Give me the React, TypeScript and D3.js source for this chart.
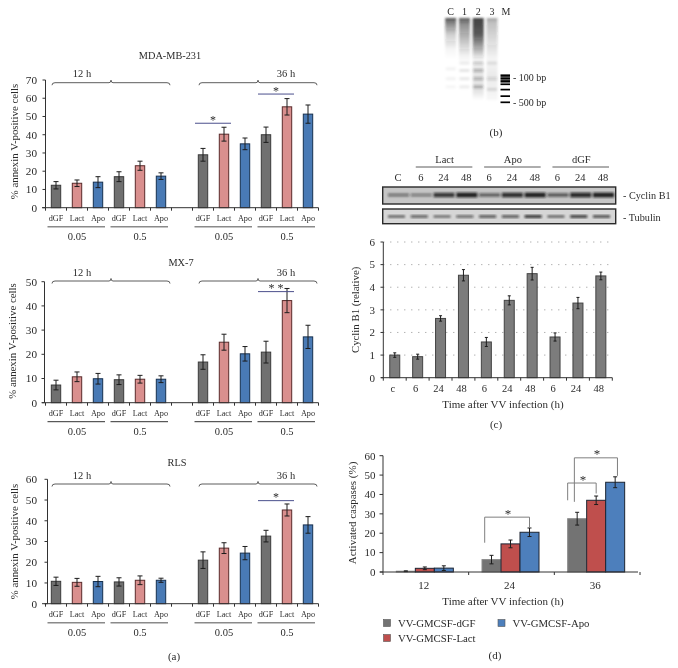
import React from "react";
import * as d3 from "d3";

const FONT = "'Liberation Serif', serif";
const INK = "#2b2b2b";

// (a) annexin V panels
const conditions = ["dGF", "Lact", "Apo", "dGF", "Lact", "Apo", "", "dGF", "Lact", "Apo", "dGF", "Lact", "Apo"];
const mdaValues = [12.3, 13.4, 14, 17, 23, 17.3, null, 29, 40.3, 35, 40, 55.3, 51.3];
const mdaErrors = [2, 1.8, 3, 2.7, 2.5, 1.8, 0, 3.5, 3.8, 3.2, 4.2, 4.5, 5];
const mxValues = [7.3, 10.7, 9.9, 9.5, 9.7, 9.7, null, 16.8, 25, 20.2, 20.9, 42.2, 27.2];
const mxErrors = [2, 2, 2.2, 2, 1.6, 1.4, 0, 3, 3.3, 3, 4.5, 5, 4.8];
const rlsValues = [10.8, 10.3, 10.7, 10.5, 11.3, 11.3, null, 21, 26.8, 24.4, 32.6, 45.2, 38];
const rlsErrors = [2, 1.9, 2.5, 2, 2.1, 1, 0, 4, 2.6, 3.2, 2.8, 2.9, 4];
const doseLabels = ["0.05", "0.5", "0.05", "0.5"];
const timeLabels = ["12 h", "36 h"];

// (b) gel
const gelLaneNames = ["C", "1", "2", "3"];
const gelLaneSmears = [
  [[0, 0.8], [0.06, 0.55], [0.2, 0.22], [0.38, 0.04], [0.5, 0]],
  [[0, 0.75], [0.08, 0.5], [0.25, 0.3], [0.45, 0.06], [0.55, 0]],
  [[0, 0.85], [0.2, 0.75], [0.4, 0.3], [0.52, 0.02], [0.62, 0.1], [0.9, 0.1], [1, 0]],
  [[0, 0.4], [0.06, 0.28], [0.3, 0.15], [0.5, 0.04], [0.7, 0.08], [1, 0.03]],
];
const gelLaneBands = [
  [[0.62, 0.05], [0.74, 0.05], [0.84, 0.04]],
  [[0.55, 0.08], [0.64, 0.1], [0.74, 0.09], [0.84, 0.08]],
  [[0.55, 0.22], [0.64, 0.28], [0.74, 0.28], [0.84, 0.32]],
  [[0.55, 0.1], [0.74, 0.16], [0.87, 0.12]],
];
const markerBands = [0.7, 0.735, 0.77, 0.81, 0.875, 0.955, 1.03];
const gelSizes = [["- 100 bp", 0.72], ["- 500 bp", 1.03]];

// (c) blot and bars
const blotTop = ["C", "6", "24", "48", "6", "24", "48", "6", "24", "48"];
const blotGroups = ["Lact", "Apo", "dGF"];
const cyclinBands = [0.4, 0.35, 0.85, 1, 0.55, 0.9, 1, 0.6, 0.95, 1];
const tubulinBands = [0.5, 0.6, 0.45, 0.55, 0.65, 0.65, 0.85, 0.5, 0.8, 0.7];
const cyclinLabels = ["c", "6", "24", "48", "6", "24", "48", "6", "24", "48"];
const cyclinValues = [1, 0.93, 2.62, 4.53, 1.58, 3.42, 4.6, 1.8, 3.3, 4.5];
const cyclinErrors = [0.1, 0.11, 0.12, 0.25, 0.2, 0.2, 0.28, 0.18, 0.25, 0.17];

// (d) caspases
const hours = ["12", "24", "36"];
const caspaseSeries = ["VV-GMCSF-dGF", "VV-GMCSF-Lact", "VV-GMCSF-Apo"];
const caspaseDgf = [0.4, 6.4, 27.5];
const caspaseLact = [1.9, 14.5, 37];
const caspaseApo = [2, 20.5, 46.3];
const caspaseDgfErr = [0.2, 2.2, 3.3];
const caspaseLactErr = [0.7, 2, 2.2];
const caspaseApoErr = [1.2, 2.2, 2.8];

const T = (p: any) => <text fontFamily={FONT} fill={INK} {...p} />;

function Annexin({ title, titleX, titleY, values, errors, yMax, y0, yTop, axisX, titleAxisX, titleAxisY, brace, sig }: any) {
  const x = d3.scaleBand<number>().domain(d3.range(13)).range([45.5, 318.5]);
  const y = d3.scaleLinear().domain([0, yMax]).range([y0, yTop]);
  const colors = ["#6f6f6f", "#d98f8e", "#4a7ab5"];
  const strokes = ["#3a3a3a", "#5a2b2b", "#17304f"];
  const cx = (i: number) => x(i)! + x.bandwidth() / 2;
  const braces = [[0, 5], [7, 12]];
  const groups = [[0, 2], [3, 5], [7, 9], [10, 12]];
  const gray = title !== "MX-7";
  return (
    <g>
      <T x={titleX} y={titleY} textAnchor="middle" fontSize={10.3} dy="0.35em">{title}</T>
      {values.map((v: number | null, i: number) =>
        v == null ? null : (
          <g key={i}>
            <rect x={cx(i) - 4.7} y={y(v)} width={9.4} height={y0 - y(v)} fill={colors[(i > 6 ? i - 1 : i) % 3]} stroke={strokes[(i > 6 ? i - 1 : i) % 3]} strokeWidth={1} />
            <path d={`M${cx(i) - 2.5},${y(v + errors[i])}h5M${cx(i)},${y(v + errors[i])}V${y(v - errors[i])}M${cx(i) - 2.5},${y(v - errors[i])}h5`} stroke="#1d1d1d" strokeWidth={1} fill="none" />
          </g>
        ))}
      <line x1={42} x2={318.5} y1={y0} y2={y0} stroke="#333" strokeWidth={1} />
      <line x1={axisX} x2={axisX} y1={yTop} y2={y0} stroke="#333" strokeWidth={1} />
      {y.ticks(yMax / 10).map((t) => (
        <g key={t}>
          <line x1={axisX - 3} x2={axisX} y1={y(t)} y2={y(t)} stroke="#333" />
          <T x={37} y={y(t)} dy="0.35em" textAnchor="end" fontSize={11.2}>{t}</T>
        </g>
      ))}
      {d3.range(14).map((i) => (
        <line key={i} x1={45.5 + i * x.bandwidth()} x2={45.5 + i * x.bandwidth()} y1={y0} y2={y0 + 3} stroke="#333" />
      ))}
      {conditions.map((c, i) => (
        <T key={i} x={cx(i)} y={y0 + 10.7} dy="0.35em" textAnchor="middle" fontSize={8.2}>{c}</T>
      ))}
      {groups.map(([a, b], i) => (
        <g key={i}>
          <line x1={cx(a) - 8.5} x2={cx(b) + 7} y1={y0 + 19} y2={y0 + 19} stroke={gray ? "#8a8a8a" : "#333"} strokeWidth={gray ? 1.6 : 1} />
          <T x={(cx(a) + cx(b)) / 2} y={y0 + 29} dy="0.35em" textAnchor="middle" fontSize={10.5}>{doseLabels[i]}</T>
        </g>
      ))}
      {braces.map(([a, b], i) => {
        const l = cx(a) - 4;
        const r = cx(b) + 9;
        const m = (l + r) / 2;
        const yb = brace;
        return (
          <g key={i}>
            <path d={`M${l},${yb + 2.5}Q${l},${yb} ${l + 3},${yb}L${m - 2},${yb}Q${m},${yb} ${m},${yb - 2.5}Q${m},${yb} ${m + 2},${yb}L${r - 3},${yb}Q${r},${yb} ${r},${yb + 2.5}`} fill="none" stroke="#333" strokeWidth={0.8} />
            <T x={i === 0 ? 82 : 286} y={yb - 9} dy="0.35em" textAnchor="middle" fontSize={10.5}>{timeLabels[i]}</T>
          </g>
        );
      })}
      {sig.map(([a, b, v, s]: any, i: number) => (
        <g key={i}>
          <line x1={cx(a) - 8} x2={cx(b) + 7} y1={y(v)} y2={y(v)} stroke="#4b4f8c" strokeWidth={1} />
          <T x={(cx(a) + cx(b)) / 2 - 0.5} y={y(v) + 0.5} textAnchor="middle" fontSize={12}>{s}</T>
        </g>
      ))}
      <T transform={`translate(${titleAxisX},${titleAxisY}) rotate(-90)`} textAnchor="middle" fontSize={10.8} dy="0.35em">% annexin V-positive cells</T>
    </g>
  );
}

function Gel() {
  const y = d3.scaleLinear().domain([0, 1]).range([18, 100]);
  const x = d3.scalePoint().domain(gelLaneNames).range([450.7, 492]);
  return (
    <g>
      <defs>
        <filter id="gb" x="-30%" y="-30%" width="160%" height="160%"><feGaussianBlur stdDeviation="1.1" /></filter>
        <filter id="gb2" x="-30%" y="-30%" width="160%" height="160%"><feGaussianBlur stdDeviation="0.6" /></filter>
        <filter id="gb3" x="-5%" y="-30%" width="110%" height="160%"><feGaussianBlur stdDeviation="0.9" /></filter>
        {gelLaneSmears.map((s, i) => (
          <linearGradient key={i} id={`lane${i}`} x1="0" x2="0" y1="0" y2="1">
            {s.map(([o, a], j) => <stop key={j} offset={o} stopColor="#222" stopOpacity={a} />)}
          </linearGradient>
        ))}
      </defs>
      {gelLaneNames.map((n, i) => (
        <g key={n}>
          <T x={x(n)} y={11} dy="0.35em" textAnchor="middle" fontSize={10}>{n}</T>
          <g filter="url(#gb)">
            <rect x={x(n)! - 5.5} y={y(0)} width={11} height={y(1) - y(0)} fill={`url(#lane${i})`} />
            {gelLaneBands[i].map(([p, a], j) => (
              <rect key={j} x={x(n)! - 5} y={y(p) - 1.5} width={10} height={3} fill="#222" fillOpacity={a} />
            ))}
          </g>
        </g>
      ))}
      <T x={506} y={11} dy="0.35em" textAnchor="middle" fontSize={10}>M</T>
      <g filter="url(#gb2)">
        {markerBands.map((p, i) => (
          <rect key={i} x={500.5} y={y(p) - 1} width={9.5} height={i < 3 ? 2.4 : 1.7} fill="#000" />
        ))}
      </g>
      {gelSizes.map(([t, p]: any) => (
        <T key={t} x={513} y={y(p)} dy="0.35em" fontSize={10}>{t}</T>
      ))}
      <T x={496} y={132} dy="0.35em" textAnchor="middle" fontSize={11}>(b)</T>
    </g>
  );
}

function Blot() {
  const x = d3.scalePoint<number>().domain(d3.range(10)).range([398, 603]);
  const groupSpans = [[1, 3], [4, 6], [7, 9]];
  const rows = [
    { vals: cyclinBands, y1: 187, y2: 204, label: "- Cyclin B1", yc: 195, bg: "#c6c6c6" },
    { vals: tubulinBands, y1: 209, y2: 223.7, label: "- Tubulin", yc: 216.5, bg: "#d6d6d6" },
  ];
  return (
    <g>
      {groupSpans.map(([a, b], i) => (
        <g key={i}>
          <line x1={x(a)! - 5} x2={x(b)! + 6} y1={167} y2={167} stroke="#333" strokeWidth={0.8} />
          <T x={(x(a)! + x(b)!) / 2 + 1} y={159} dy="0.35em" textAnchor="middle" fontSize={10.5}>{blotGroups[i]}</T>
        </g>
      ))}
      {blotTop.map((t, i) => (
        <T key={i} x={x(i)} y={177} dy="0.35em" textAnchor="middle" fontSize={10.5}>{t}</T>
      ))}
      {rows.map((r, k) => (
        <g key={k}>
          <rect x={382.7} y={r.y1} width={233} height={r.y2 - r.y1} fill={r.bg} stroke="#2a2a2a" strokeWidth={1.4} />
          <g filter="url(#gb3)">
            {r.vals.map((v, i) => (
              <rect key={i} x={x(i)! - 10} y={r.yc - 0.9 - v * (k === 0 ? 1.5 : 0.7)} width={k === 0 ? 21 : 17} height={1.8 + v * (k === 0 ? 3 : 1.4)} fill="#111" fillOpacity={0.2 + v * 0.7} />
            ))}
          </g>
          <T x={623} y={r.yc + 0.5} dy="0.35em" fontSize={10.2}>{r.label}</T>
        </g>
      ))}
    </g>
  );
}

function Cyclin() {
  const x = d3.scaleBand<number>().domain(d3.range(10)).range([383.3, 612.3]);
  const y = d3.scaleLinear().domain([0, 6]).range([377.7, 242]);
  const cx = (i: number) => x(i)! + x.bandwidth() / 2;
  return (
    <g>
      {y.ticks(6).filter((t) => t > 0).map((t) => (
        <line key={t} x1={383.3} x2={612.3} y1={y(t)} y2={y(t)} stroke="#777" strokeWidth={0.8} strokeDasharray="1 6" />
      ))}
      {cyclinValues.map((v, i) => (
        <g key={i}>
          <rect x={cx(i) - 5} y={y(v)} width={10} height={y(0) - y(v)} fill="#7b7b7b" stroke="#444" strokeWidth={1} />
          <path d={`M${cx(i) - 1.5},${y(v + cyclinErrors[i])}h3M${cx(i)},${y(v + cyclinErrors[i])}V${y(v - cyclinErrors[i])}M${cx(i) - 1.5},${y(v - cyclinErrors[i])}h3`} stroke="#1d1d1d" strokeWidth={1} fill="none" />
          <T x={cx(i) - 2} y={388} dy="0.35em" textAnchor="middle" fontSize={10.5}>{cyclinLabels[i]}</T>
        </g>
      ))}
      <line x1={383.3} x2={383.3} y1={242} y2={y(0)} stroke="#333" />
      <line x1={381} x2={612.3} y1={y(0)} y2={y(0)} stroke="#333" />
      {d3.range(11).map((i) => (
        <line key={i} x1={383.3 + i * x.bandwidth()} x2={383.3 + i * x.bandwidth()} y1={y(0)} y2={y(0) + 3} stroke="#333" />
      ))}
      {y.ticks(6).map((t) => (
        <g key={t}>
          <line x1={380.5} x2={383.3} y1={y(t)} y2={y(t)} stroke="#333" />
          <T x={375} y={y(t)} dy="0.35em" textAnchor="end" fontSize={11}>{t}</T>
        </g>
      ))}
      <T transform={`translate(355,${(y(0) + y(6)) / 2 + 0}) rotate(-90)`} textAnchor="middle" dy="0.35em" fontSize={10.8}>Cyclin B1 (relative)</T>
      <T x={503} y={404} dy="0.35em" textAnchor="middle" fontSize={11}>Time after VV infection (h)</T>
      <T x={496} y={424} dy="0.35em" textAnchor="middle" fontSize={11}>(c)</T>
    </g>
  );
}

function Caspase() {
  const x = d3.scaleBand().domain(hours).range([382, 639]);
  const y = d3.scaleLinear().domain([0, 60]).range([572, 455.7]);
  const vals = [caspaseDgf, caspaseLact, caspaseApo];
  const errs = [caspaseDgfErr, caspaseLactErr, caspaseApoErr];
  const colors = ["#737373", "#bf504d", "#4d7fbc"];
  const strokes = ["#8a8a8a", "#1c2533", "#1c2533"];
  const barW = 19;
  const bx = (h: string, s: number) => x(h)! + x.bandwidth() / 2 - 1.5 * barW + s * barW;
  const brackets: any[] = [
    ["24", 2.7, 15.1, 28.3, 22.8, 2, 0],
    ["36", 0, 37, 45.9, 40.5, 1, 0],
    ["36", 6.7, 36.2, 58.9, 49.6, 2, 2.3],
  ];
  const legend = [[383.5, 623], [383.5, 638], [498, 623]];
  return (
    <g>
      {hours.map((h, hi) =>
        vals.map((s, si) => {
          const c = bx(h, si) + barW / 2;
          const v = s[hi];
          const e = errs[si][hi];
          return (
            <g key={`${h}${si}`}>
              <rect x={bx(h, si)} y={y(v)} width={barW} height={y(0) - y(v)} fill={colors[si]} stroke={strokes[si]} strokeWidth={1} />
              <path d={`M${c - 2},${y(v + e)}h4M${c},${y(v + e)}V${y(Math.max(0, v - e))}M${c - 2},${y(Math.max(0, v - e))}h4`} stroke="#1d1d1d" strokeWidth={1} fill="none" />
            </g>
          );
        }))}
      <line x1={383} x2={383} y1={455.7} y2={572} stroke="#333" />
      <line x1={380} x2={638} y1={572} y2={572} stroke="#333" />
      {d3.range(4).map((i) => (
        <line key={i} x1={383 + i * x.bandwidth()} x2={383 + i * x.bandwidth()} y1={572} y2={575} stroke="#333" />
      ))}
      {y.ticks(6).map((t) => (
        <g key={t}>
          <line x1={379.5} x2={383} y1={y(t)} y2={y(t)} stroke="#333" />
          <T x={375.5} y={y(t)} dy="0.35em" textAnchor="end" fontSize={11}>{t}</T>
        </g>
      ))}
      {hours.map((h) => (
        <T key={h} x={x(h)! + x.bandwidth() / 2 - 1} y={585} dy="0.35em" textAnchor="middle" fontSize={11}>{h}</T>
      ))}
      {brackets.map(([h, off, v0, vTop, vEnd, s1, endOff], i) => {
        const x1 = bx(h, 0) + off;
        const x2 = bx(h, s1) + barW / 2 + endOff;
        return (
          <g key={i}>
            <path d={`M${x1},${y(v0)}V${y(vTop)}H${x2}V${y(vEnd)}`} fill="none" stroke="#7f7f7f" strokeWidth={1} />
            <T x={(x1 + x2) / 2 + 1} y={y(vTop) + 0.5} textAnchor="middle" fontSize={13}>*</T>
          </g>
        );
      })}
      <T transform="translate(352.5,513) rotate(-90)" textAnchor="middle" dy="0.35em" fontSize={11}>Activated caspases (%)</T>
      <T x={503} y={601} dy="0.35em" textAnchor="middle" fontSize={11}>Time after VV infection (h)</T>
      {caspaseSeries.map((n, i) => (
        <g key={n}>
          <rect x={legend[i][0]} y={legend[i][1] - 3.5} width={7} height={7} fill={colors[i]} stroke="#555" strokeWidth={0.6} />
          <T x={legend[i][0] + 14.5} y={legend[i][1]} dy="0.35em" fontSize={10.8}>{n}</T>
        </g>
      ))}
      <T x={495} y={655} dy="0.35em" textAnchor="middle" fontSize={11}>(d)</T>
    </g>
  );
}

export default function App() {
  return (
    <svg width={678} height={668} viewBox="0 0 678 668" style={{ position: "absolute", left: 0, top: 0, background: "#fff" }}>
      <defs>
        <filter id="soft" x="0" y="0" width="678" height="668" filterUnits="userSpaceOnUse"><feGaussianBlur stdDeviation="0.3" /></filter>
      </defs>
      <g filter="url(#soft)">
        <rect x={0} y={0} width={678} height={668} fill="#fff" />
        <Annexin title="MDA-MB-231" titleX={170} titleY={55} values={mdaValues} errors={mdaErrors} yMax={70} y0={207.7} yTop={80} axisX={45.5} titleAxisX={14} titleAxisY={141.5} brace={82.7}
          sig={[[7, 8, 46.3, "*"], [10, 11, 62.3, "*"]]} />
        <Annexin title="MX-7" titleX={181} titleY={262} values={mxValues} errors={mxErrors} yMax={50} y0={402.7} yTop={281.7} axisX={44.5} titleAxisX={12.5} titleAxisY={341} brace={281}
          sig={[[10, 11, 45.9, "* *"]]} />
        <Annexin title="RLS" titleX={177} titleY={462} values={rlsValues} errors={rlsErrors} yMax={60} y0={603.7} yTop={479.3} axisX={47.5} titleAxisX={14.5} titleAxisY={541.5} brace={484}
          sig={[[10, 11, 49.7, "*"]]} />
        <T x={174} y={656} dy="0.35em" textAnchor="middle" fontSize={11}>(a)</T>
        <Gel />
        <Blot />
        <Cyclin />
        <Caspase />
      </g>
    </svg>
  );
}
